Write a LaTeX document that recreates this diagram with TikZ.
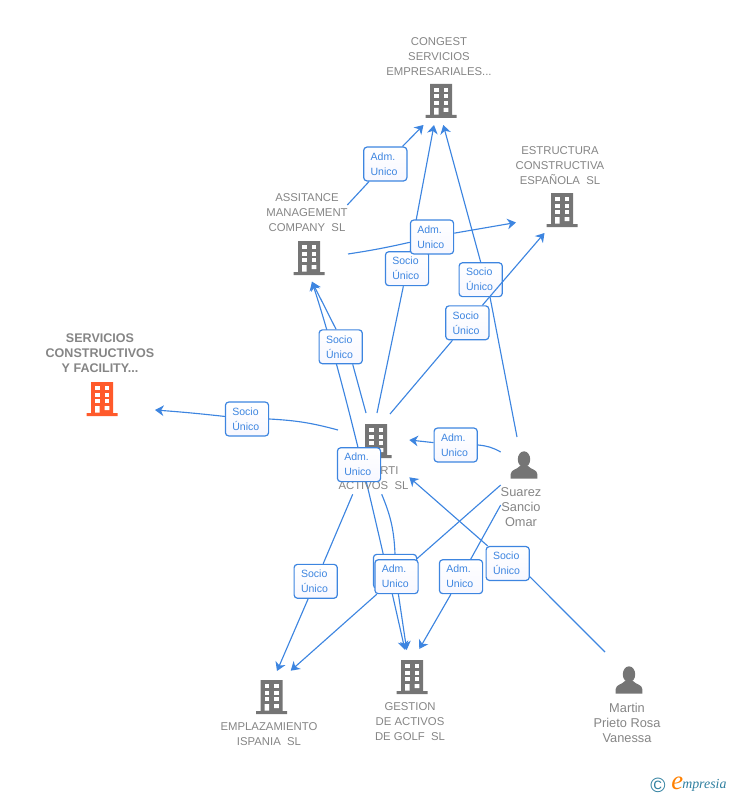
\documentclass[tikz,border=0pt]{standalone}
\usepackage{fontspec}
\setmainfont{Liberation Sans}
\newfontfamily\logofont{Liberation Serif}
\usetikzlibrary{arrows.meta,backgrounds}
\definecolor{linkblue}{HTML}{3D85E0}
\definecolor{icongray}{HTML}{757575}
\definecolor{labelgray}{HTML}{858585}
\definecolor{mainorange}{HTML}{FF5A2B}
\definecolor{logoteal}{HTML}{2F7F9F}
\newcommand{\buildingicon}[1]{%
\begin{scope}[shift={(path picture bounding box.center)}]
\fill[#1] (-11,-17) rectangle (11,14) (-15.5,14) rectangle (15.5,17);
\foreach \r in {-13,-6.5,0.2}
  \foreach \c in {-7,2.7}
    \fill[white] (\c,\r) rectangle ++(4.6,4);
\fill[white] (-7,7) rectangle ++(4.6,6.7) (2.7,7) rectangle ++(4.6,4);
\end{scope}}
\newcommand{\personicon}{%
\begin{scope}[shift={(path picture bounding box.center)}]
\fill[icongray] (0,-5.7) ellipse (6.2 and 8);
\fill[icongray] (-13.3,13.5) -- (-13.3,9) .. controls (-13,4.5) and (-7,4.5) .. (-4,1) -- (4,1)
  .. controls (7,4.5) and (13,4.5) .. (13.3,9) -- (13.3,13.5) -- cycle;
\end{scope}}
\tikzset{
building/.style={inner sep=0pt,outer sep=0pt,minimum width=24pt,minimum height=25.6pt,
  path picture={\buildingicon{#1}}},
building/.default=icongray,
person/.style={inner sep=0pt,outer sep=0pt,minimum width=20.4pt,minimum height=20.6pt,
  path picture={\personicon}},
coname/.style={text=labelgray,align=center,inner sep=0pt,font=\fontsize{8.5}{11.25}\selectfont},
who/.style={text=labelgray,align=center,inner sep=0pt,font=\fontsize{9.6}{11.25}\selectfont},
tagbox/.style={draw=linkblue,line width=.9pt,rounded corners=2.5pt,top color=white,bottom color=blue!3,
  text=linkblue,align=left,text width=22pt,inner xsep=5.2pt,inner ysep=0pt,minimum height=25.4pt,
  font=\fontsize{7.9}{11.25}\selectfont},
wire/.style={draw=linkblue,line width=.85pt},
link/.style={wire,-{Stealth[length=6.5pt,width=8pt,inset=2pt]}}
}
\begin{document}
\begin{tikzpicture}[x=.75pt,y=-.75pt]
\useasboundingbox (0,0) rectangle (728,795);
% companies
\node[building=mainorange] (facility) at (102,399) {};
\node[building] (congest) at (441,101) {};
\node[building] (estructura) at (562,210) {};
\node[building] (assist) at (309,258) {};
\node[building] (marti) at (376,441) {};
\node[building] (golf) at (412,677) {};
\node[building] (ispania) at (271.5,697) {};
\node[person] (suarez) at (524,465) {};
\node[person] (prieto) at (629,680) {};
\node[coname,font=\bfseries\fontsize{9.4}{11.25}\selectfont] (facilitytxt) at (100,353) {SERVICIOS\\CONSTRUCTIVOS\\Y FACILITY...};
\node[coname] (congesttxt) at (439,57) {CONGEST\\SERVICIOS\\EMPRESARIALES...};
\node[coname] (estructuratxt) at (560,166) {ESTRUCTURA\\CONSTRUCTIVA\\ESPAÑOLA\ \ SL};
\node[coname] (assisttxt) at (307,213) {ASSITANCE\\MANAGEMENT\\COMPANY\ \ SL};
\node[coname] (martitxt) at (373.5,478.5) {\hspace*{24pt}RTI\\ACTIVOS\ \ SL};
\node[coname] (golftxt) at (410,722) {GESTION\\DE ACTIVOS\\DE GOLF\ \ SL};
\node[coname] (ispaniatxt) at (269,734) {EMPLAZAMIENTO\\ISPANIA\ \ SL};
\node[who] (suareztxt) at (521,507) {Suarez\\Sancio\\Omar};
\node[who] (prietotxt) at (627,722.5) {Martin\\Prieto Rosa\\Vanessa};
% boxes
\node[tagbox] (admA) at (385.3,164) {Adm.\\Unico};
\node[tagbox] (socB) at (407,268.7) {Socio\\Único};
\node[tagbox] (admB) at (432,237) {Adm.\\Unico};
\node[tagbox] (socC) at (480.7,279.7) {Socio\\Único};
\node[tagbox] (socD) at (467.3,322.8) {Socio\\Único};
\node[tagbox] (socE) at (340.7,346.8) {Socio\\Único};
\node[tagbox] (socL) at (247,419) {Socio\\Único};
\node[tagbox] (admF) at (359,464.7) {Adm.\\Unico};
\node[tagbox] (admJ) at (455.7,445) {Adm.\\Unico};
\node[tagbox] (socG) at (315.7,581.3) {Socio\\Único};
\node[tagbox] (admH) at (395,571.3) {Adm.\\Unico};
\node[tagbox] (admG) at (396.5,576.7) {Adm.\\Unico};
\node[tagbox] (admI) at (461,576.7) {Adm.\\Unico};
\node[tagbox] (socF) at (507.7,563.5) {Socio\\Único};
% free ends
\coordinate (martiW) at (338,430);
\coordinate (martiN1) at (366,413);
\coordinate (martiN2) at (377,413);
\coordinate (martiN3) at (390,414);
\coordinate (martiS1) at (352.7,494.3);
\coordinate (martiS2) at (381.7,494.3);
\coordinate (martiE1) at (409.3,440);
\coordinate (martiE2) at (409.3,477.3);
\coordinate (facilityE) at (155,410);
\coordinate (congestS1) at (423.5,125);
\coordinate (congestS2) at (434,125);
\coordinate (congestS3) at (443.3,125);
\coordinate (assistE1) at (347.3,205);
\coordinate (assistE2) at (348,254);
\coordinate (assistS) at (312,281.7);
\coordinate (estructuraW) at (516,222.5);
\coordinate (estructuraS) at (544.5,233);
\coordinate (suarezN) at (517,437);
\coordinate (suarezW) at (500.7,452);
\coordinate (suarezS1) at (500.7,485);
\coordinate (suarezS2) at (500.7,505);
\coordinate (prietoN) at (605,652);
\coordinate (golfN1) at (405,650);
\coordinate (golfN2) at (406.7,650);
\coordinate (golfN3) at (419.3,649);
\coordinate (ispaniaN1) at (277,671);
\coordinate (ispaniaN2) at (290.7,670.7);
\begin{pgfonlayer}{background}
\draw[wire] (martiW) to[bend right=6] (socL.east);
\draw[link] (socL) to[bend right=1] (facilityE);
\draw[wire] (assistE1) -- (admA);
\draw[link] (admA) -- (congestS1);
\draw[wire] (assistE2) to[bend right=2] (admB);
\draw[link] (admB) -- (estructuraW);
\draw[wire] (martiN2) -- (socB);
\draw[link] (socB) -- (congestS2);
\draw[wire] (suarezN) -- ([xshift=7pt]socC.south);
\draw[link] (socC.north) -- (congestS3);
\draw[wire] (martiN3) -- (socD);
\draw[wire] (martiN1) -- ([xshift=9pt]socE.south);
\draw[link] ([xshift=-3.5pt]socE.north) -- (assistS);
\draw[{Stealth[length=6.5pt,width=8pt,inset=2pt]}-{Stealth[length=6.5pt,width=8pt,inset=2pt]},wire] (assistS) .. controls (347,390) and (380,540) .. (golfN1);
\draw[wire] (martiS2) to[bend left=10] (admH.north);
\draw[link] (admH) -- (golfN2);
\draw[wire] (suarezS1) -- (admG);
\draw[link] (admG) -- (ispaniaN2);
\draw[wire] (suarezS2) -- (admI);
\draw[link] (admI) -- (golfN3);
\draw[wire] (prietoN) -- ([yshift=-10pt]socF.east);
\draw[link] (socF) -- (martiE2);
\draw[wire] (suarezW) to[bend right=12] (admJ.east);
\draw[link] (admJ) -- (martiE1);
\draw[wire] (martiS1) -- (socG);
\draw[link] (socG) -- (ispaniaN1);
\end{pgfonlayer}
\draw[link] (socD) -- (estructuraS);
% logo
\node[text=logoteal,inner sep=0pt,font=\fontsize{15.5}{16}\selectfont] (logoC) at (658,785) {©};
\node[text=orange,inner sep=0pt,anchor=base west,font=\logofont\itshape\fontsize{20}{20}\selectfont] (logoE) at (671,789) {e};
\node[text=logoteal,inner sep=0pt,anchor=base west,font=\logofont\itshape\fontsize{10.4}{11}\selectfont] (logoT) at (682,788) {mpresia};
\end{tikzpicture}
\end{document}
